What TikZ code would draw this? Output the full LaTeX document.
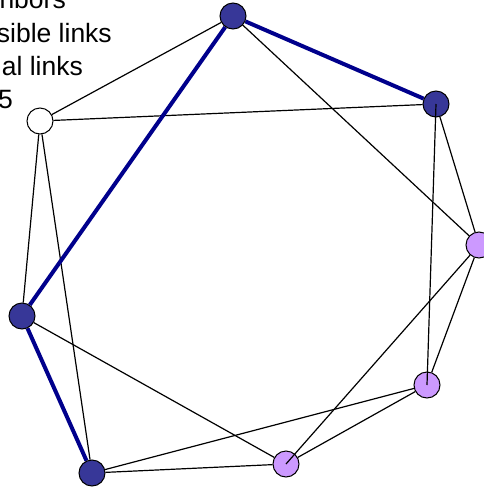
\documentclass[tikz,border=0pt]{standalone}
\usepackage{fontspec}
\setmainfont{Liberation Sans}
\usetikzlibrary{backgrounds}
\definecolor{hub}{RGB}{55,55,152}
\definecolor{lilac}{RGB}{204,153,255}
\definecolor{path}{RGB}{0,0,140}
\begin{document}
\begin{tikzpicture}[x=1pt,y=-1pt,
  vertex/.style={circle,draw=black,line width=1pt,minimum size=26pt,inner sep=0pt},
  dark/.style={vertex,fill=hub},
  light/.style={vertex,fill=lilac},
  open/.style={vertex,fill=white},
  link/.style={draw=black,line width=1.2pt},
  strong/.style={draw=path,line width=4pt},
  caption/.style={anchor=base east,inner sep=0pt,font=\fontsize{26.5}{32}\selectfont}]
\useasboundingbox (0,0) rectangle (484,488);
\clip (0,0) rectangle (484,488);

% vertices
\node[dark]  (A) at (233,16)  {};
\node[dark]  (B) at (436,104) {};
\node[light] (C) at (479,245) {};
\node[light] (D) at (427,385) {};
\node[light] (E) at (286,464) {};
\node[dark]  (F) at (92,473)  {};
\node[dark]  (G) at (22,316)  {};
\node[open]  (H) at (40,121)  {};

% edges under the vertices
\begin{scope}[on background layer]
  \draw[link] (A) -- (H);
  \draw[link] (A) -- (C);
  \draw[link] (H) -- (B);
  \draw[link] (H) -- (G);
  \draw[link] (H) -- (F);
  \draw[link] (B) -- (C);
  \draw[link] (C) -- (D);
  \draw[link] (D) -- (E);
  \draw[link] (D) -- (F);
  \draw[link] (G) -- (E);
  \draw[link] (F) -- (E);
  \draw[strong] (A) -- (B);
  \draw[strong] (A) -- (G);
  \draw[strong] (G) -- (F);
\end{scope}

% edges drawn across the vertex discs
\draw[link] (B.center) -- (D.center);
\draw[link] (C) -- (E.center);

% captions
\node[caption] (t1) at (66,8)   {hbors};
\node[caption] (t2) at (112,42) {sible links};
\node[caption] (t3) at (83,75)  {al links};
\node[caption] (t4) at (13,108) {5};
\end{tikzpicture}
\end{document}
